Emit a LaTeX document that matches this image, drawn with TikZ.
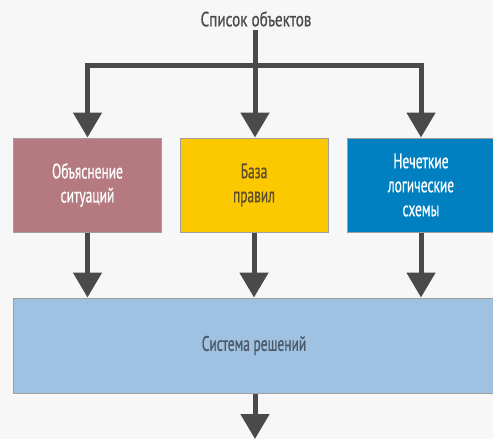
\documentclass[tikz,border=0pt]{standalone}
\usepackage{fontspec}
\setmainfont[FakeStretch=0.64,FakeBold=0.6]{PT Sans}
\newfontfamily\titlefont[FakeStretch=0.74,FakeBold=0.6]{PT Sans}
\usepackage{xcolor}
\usetikzlibrary{positioning, calc, arrows.meta}
\definecolor{linegray}{HTML}{4A4A4C}
\definecolor{rosebox}{HTML}{B47A80}
\definecolor{rulebox}{HTML}{FCC800}
\definecolor{fuzzybox}{HTML}{0080C0}
\definecolor{decidebox}{HTML}{A0C2E2}
\definecolor{rulestext}{HTML}{5B4E2A}
\definecolor{decidetext}{HTML}{4C5866}
\tikzset{
    block/.style={
        rectangle,
        draw=gray!75,
        line width=1pt,
        minimum width=148pt,
        minimum height=94pt,
        align=center,
        font=\fontsize{21}{24}\selectfont,
    },
    flow/.style={
        draw=linegray,
        line width=5pt,
        -{Triangle[width=28pt,length=25pt]},
    },
}

\begin{document}
\begin{tikzpicture}[x=1pt,y=-1pt]
      \fill[black!3] (0,0) rectangle (493,439);
      \useasboundingbox (0,0) rectangle (493,439);

      \node (title) at (256,19) [font=\titlefont\fontsize{20.5}{23}\selectfont, text=linegray] {Список объектов};
      \coordinate (split) at (255,65);

      \node [block, fill=rosebox, text=white] (expl) at (87.5,185) {Объяснение\\ситуаций};
      \node [block, fill=rulebox, text=rulestext] (rules) at (254,185) {База\\правил};
      \node [block, fill=fuzzybox, text=white] (fuzzy) at (421,185) {Нечеткие\\логические\\схемы};

      \node [block, fill=decidebox, text=decidetext, minimum width=482pt, minimum height=95pt] (decide) at (254,345.5) {Система решений};
      \coordinate (out) at (255,439);

      \draw[draw=linegray, line width=5pt] (split |- title.south) -- (split);
      \draw[flow] (split) -| (expl.north);
      \draw[flow] (split) -- (split |- rules.north);
      \draw[flow] (split) -| (fuzzy.north);

      \draw[flow] (expl) -- (expl |- decide.north);
      \draw[flow] (rules) -- (rules |- decide.north);
      \draw[flow] (fuzzy) -- (fuzzy |- decide.north);
      \draw[flow] (out |- decide.south) -- (out);
\end{tikzpicture}
\end{document}
